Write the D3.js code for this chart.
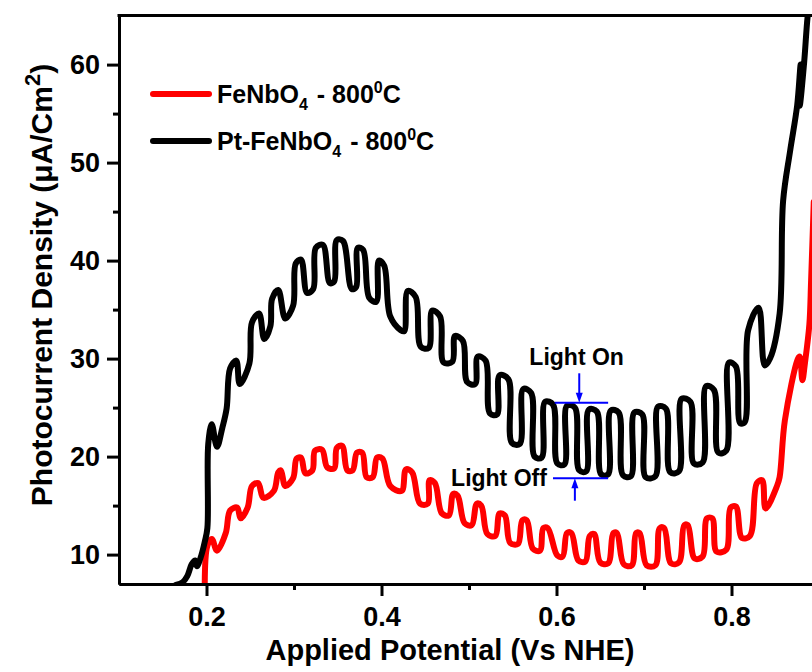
<!DOCTYPE html>
<html>
<head>
<meta charset="utf-8">
<script src="https://cdn.jsdelivr.net/npm/d3@7"></script>
<style>
  body { margin: 0; background: #fff; }
  text { font-family: "Liberation Sans", Arial, sans-serif; font-weight: bold; fill: #000; }
</style>
</head>
<body>
<svg width="812" height="672"></svg>
<script>
// Pt-FeNbO4 - 800C : [potential (V vs NHE), photocurrent (uA/cm2)]
var ptFeNbO4 = [
  [0.165,6.9],[0.173,7.2],[0.178,7.8],[0.183,9.0],[0.187,9.4],[0.189,8.8],[0.194,9.9],[0.198,11.3],
  [0.201,12.7],[0.202,21.3],[0.206,23.3],[0.212,21.0],[0.218,22.9],[0.223,24.9],[0.227,29.0],[0.234,29.8],
  [0.238,27.4],[0.249,29.5],[0.252,33.7],[0.260,34.6],[0.266,32.0],[0.273,33.3],[0.275,36.1],[0.282,37.0],
  [0.290,34.1],[0.299,35.4],[0.302,39.7],[0.308,40.1],[0.315,36.7],[0.322,37.1],[0.325,41.3],[0.333,41.6],
  [0.341,37.7],[0.346,37.9],[0.349,42.1],[0.356,42.0],[0.366,37.1],[0.371,37.3],[0.373,41.3],[0.379,41.1],
  [0.386,36.2],[0.394,35.8],[0.397,40.0],[0.403,39.5],[0.410,34.3],[0.422,32.9],
  [0.426,32.8],[0.430,36.9],[0.439,36.3],[0.445,31.2],[0.454,31.1],
  [0.458,34.9],[0.467,34.3],[0.471,29.6],[0.481,29.7],
  [0.484,32.3],[0.493,31.8],[0.498,27.6],[0.507,27.4],
  [0.510,30.2],[0.519,29.8],[0.524,24.4],[0.532,24.3],
  [0.535,28.3],[0.545,27.9],[0.549,21.4],[0.558,21.3],
  [0.562,26.9],[0.571,26.5],[0.575,20.0],[0.583,19.9],
  [0.587,25.6],[0.596,25.3],[0.601,19.3],[0.609,19.2],
  [0.612,25.2],[0.621,25.0],[0.626,18.6],[0.634,18.5],
  [0.637,24.8],[0.646,24.6],[0.651,18.2],[0.659,18.2],
  [0.662,24.7],[0.671,24.5],[0.676,18.1],[0.685,18.0],
  [0.689,24.5],[0.698,24.3],[0.702,17.9],[0.713,18.0],
  [0.716,25.1],[0.725,24.9],[0.730,18.4],[0.740,18.5],
  [0.743,25.9],[0.753,25.6],[0.757,19.3],[0.767,19.4],
  [0.771,27.2],[0.780,26.8],[0.785,20.4],[0.794,20.6],
  [0.797,29.6],[0.805,29.2],[0.810,23.4],[0.815,23.5],
  [0.819,32.9],[0.831,35.2],[0.838,29.3],[0.844,30.0],
  [0.855,34.6],[0.859,46.1],[0.867,51.2],[0.875,55.8],[0.879,60.0],[0.878,55.8],[0.883,60.2],
  [0.887,64.9],[0.891,67.6]
];

// FeNbO4 - 800C
var feNbO4 = [
  [0.198,6.9],[0.201,10.9],[0.206,11.6],[0.212,10.4],[0.222,12.2],[0.227,14.5],[0.235,14.8],[0.239,13.7],
  [0.247,14.8],[0.252,17.0],[0.259,17.3],[0.265,15.8],[0.277,16.5],[0.282,18.4],[0.285,18.6],[0.290,17.0],
  [0.299,17.8],[0.303,19.8],[0.308,19.9],[0.313,18.3],[0.321,18.6],[0.324,20.6],[0.332,20.7],[0.338,18.9],
  [0.346,18.8],[0.349,20.9],[0.355,21.1],[0.361,18.6],[0.367,18.6],[0.372,20.4],[0.378,20.4],[0.383,17.9],
  [0.390,17.9],[0.395,19.9],[0.401,19.8],[0.410,17.0],[0.423,16.5],[0.428,18.7],[0.435,18.4],[0.444,15.2],
  [0.453,15.2],[0.455,17.6],[0.461,17.3],[0.469,14.2],[0.477,14.0],[0.482,16.2],[0.487,16.0],[0.495,13.2],
  [0.503,13.0],[0.509,15.2],[0.514,15.0],[0.521,12.1],[0.530,11.9],[0.535,14.2],[0.541,14.0],[0.547,11.2],
  [0.556,11.1],[0.561,13.5],[0.566,13.5],[0.573,10.6],[0.581,10.4],[0.585,12.7],[0.590,12.7],[0.601,9.9],
  [0.607,9.8],[0.612,12.2],[0.617,12.2],[0.625,9.4],[0.633,9.3],[0.638,11.9],[0.643,12.1],[0.650,9.2],
  [0.659,9.1],[0.665,12.2],[0.669,12.2],[0.677,9.0],[0.686,8.9],[0.691,12.2],[0.695,12.2],[0.703,8.9],
  [0.713,8.9],[0.718,12.7],[0.723,12.7],[0.731,9.1],[0.740,9.2],[0.746,13.0],[0.750,13.0],[0.758,9.6],
  [0.767,9.8],[0.772,13.7],[0.778,13.7],[0.783,10.3],[0.794,10.5],[0.799,14.8],[0.805,14.9],[0.812,11.7],
  [0.821,11.9],[0.829,17.3],[0.835,17.6],[0.839,14.7],[0.852,17.0],[0.855,17.9],[0.861,23.7],[0.876,30.0],
  [0.878,30.2],[0.881,27.8],[0.884,29.6],[0.889,33.5],[0.891,38.0],[0.894,46.0]
];

var xTicks = [0.2, 0.4, 0.6, 0.8];
var xMinor = [0.3, 0.5, 0.7];
var yTicks = [10, 20, 30, 40, 50, 60];
var yMinor = [15, 25, 35, 45, 55];

// light on / off markers: [v start, v end, level, arrow v, arrow tail]
var lightOn = [0.598, 0.659, 25.5, 0.626, 28.5];
var lightOff = [0.596, 0.659, 17.8, 0.621, 15.5];

var svg = d3.select('svg');

var x = d3.scaleLinear().domain([0.1, 0.9]).range([119, 819]);
var y = d3.scaleLinear().domain([7, 65]).range([584, 15.6]);

svg.append('clipPath').attr('id', 'plot')
   .append('rect')
   .attr('x', x(0.1)).attr('y', y(65))
   .attr('width', x(0.9) - x(0.1)).attr('height', y(7) - y(65));

var line = d3.line()
    .curve(d3.curveCatmullRom.alpha(0.5))
    .x(function(d) { return x(d[0]); })
    .y(function(d) { return y(d[1]); });

var curves = svg.append('g').attr('clip-path', 'url(#plot)');

curves.append('path')
    .datum(feNbO4)
    .attr('d', line)
    .attr('fill', 'none')
    .attr('stroke', '#ff0000')
    .attr('stroke-width', 6)
    .attr('stroke-linejoin', 'round')
    .attr('stroke-linecap', 'round');

curves.append('path')
    .datum(ptFeNbO4)
    .attr('d', line)
    .attr('fill', 'none')
    .attr('stroke', '#000000')
    .attr('stroke-width', 6)
    .attr('stroke-linejoin', 'round')
    .attr('stroke-linecap', 'round');

// axes
svg.append('g')
    .attr('transform', 'translate(0,' + y(7) + ')')
    .call(d3.axisBottom(x).tickValues(xTicks).tickSize(12).tickSizeOuter(0)
          .tickPadding(11).tickFormat(d3.format('.1f')));

svg.append('g')
    .attr('transform', 'translate(0,' + y(7) + ')')
    .call(d3.axisBottom(x).tickValues(xMinor).tickSize(6).tickSizeOuter(0).tickFormat(''));

svg.append('g')
    .attr('transform', 'translate(' + x(0.1) + ',0)')
    .call(d3.axisLeft(y).tickValues(yTicks).tickSize(12).tickSizeOuter(0).tickPadding(7));

svg.append('g')
    .attr('transform', 'translate(' + x(0.1) + ',0)')
    .call(d3.axisLeft(y).tickValues(yMinor).tickSize(6).tickSizeOuter(0).tickFormat(''));

svg.selectAll('.domain').attr('stroke', '#000').attr('stroke-width', 3);
svg.selectAll('.tick line').attr('stroke', '#000').attr('stroke-width', 3);
svg.selectAll('.tick text')
    .style('font-size', '27px')
    .style('font-family', '"Liberation Sans", Arial, sans-serif')
    .style('font-weight', 'bold')
    .attr('fill', '#000');

// top and right frame
svg.append('line')
    .attr('x1', x(0.1) - 1.5).attr('x2', x(0.9))
    .attr('y1', y(65)).attr('y2', y(65))
    .attr('stroke', '#000').attr('stroke-width', 3);
svg.append('line')
    .attr('x1', x(0.9)).attr('x2', x(0.9))
    .attr('y1', y(65)).attr('y2', y(7))
    .attr('stroke', '#000').attr('stroke-width', 3);

// axis titles
svg.append('text')
    .attr('x', 450).attr('y', 660)
    .attr('text-anchor', 'middle')
    .style('font-size', '29px')
    .text('Applied Potential (Vs NHE)');

var yt = svg.append('text')
    .attr('transform', 'translate(52,285) rotate(-90)')
    .attr('text-anchor', 'middle')
    .style('font-size', '30px');
yt.append('tspan').text('Photocurrent Density (\u03bcA/Cm');
yt.append('tspan').attr('dy', -12).style('font-size', '22px').text('2');
yt.append('tspan').attr('dy', 12).text(')');

// legend
var legendRows = [
  {color: '#ff0000', name: 'FeNbO', y: 94},
  {color: '#000000', name: 'Pt-FeNbO', y: 141}
];
legendRows.forEach(function(r) {
    svg.append('line')
        .attr('x1', 153).attr('x2', 209)
        .attr('y1', r.y).attr('y2', r.y)
        .attr('stroke', r.color).attr('stroke-width', 6)
        .attr('stroke-linecap', 'round');
    var t = svg.append('text').attr('x', 217).attr('y', r.y + 9).style('font-size', '25px');
    t.append('tspan').text(r.name);
    t.append('tspan').attr('dy', 7).style('font-size', '16px').text('4');
    t.append('tspan').attr('dy', -7).attr('dx', 2).text(' - 800');
    t.append('tspan').attr('dy', -10).style('font-size', '16px').text('0');
    t.append('tspan').attr('dy', 10).text('C');
});

// light on / off annotations
function marker(m, down) {
    svg.append('line')
        .attr('x1', x(m[0])).attr('x2', x(m[1]))
        .attr('y1', y(m[2])).attr('y2', y(m[2]))
        .attr('stroke', '#0000ff').attr('stroke-width', 2);
    var ax = x(m[3]), tip = y(m[2]), tail = y(m[4]);
    var dir = down ? -1 : 1;
    svg.append('line')
        .attr('x1', ax).attr('x2', ax)
        .attr('y1', tail).attr('y2', tip + dir * 6)
        .attr('stroke', '#0000ff').attr('stroke-width', 2);
    svg.append('path')
        .attr('d', 'M' + ax + ',' + tip + 'L' + (ax - 3.5) + ',' + (tip + dir * 10) +
                   'L' + (ax + 3.5) + ',' + (tip + dir * 10) + 'Z')
        .attr('fill', '#0000ff');
}
marker(lightOn, true);
marker(lightOff, false);

svg.append('text')
    .attr('x', x(0.623)).attr('y', y(29.3))
    .attr('text-anchor', 'middle')
    .style('font-size', '23px')
    .text('Light On');

svg.append('text')
    .attr('x', x(0.589)).attr('y', y(17.0))
    .attr('text-anchor', 'end')
    .style('font-size', '23px')
    .text('Light Off');
</script>
</body>
</html>
